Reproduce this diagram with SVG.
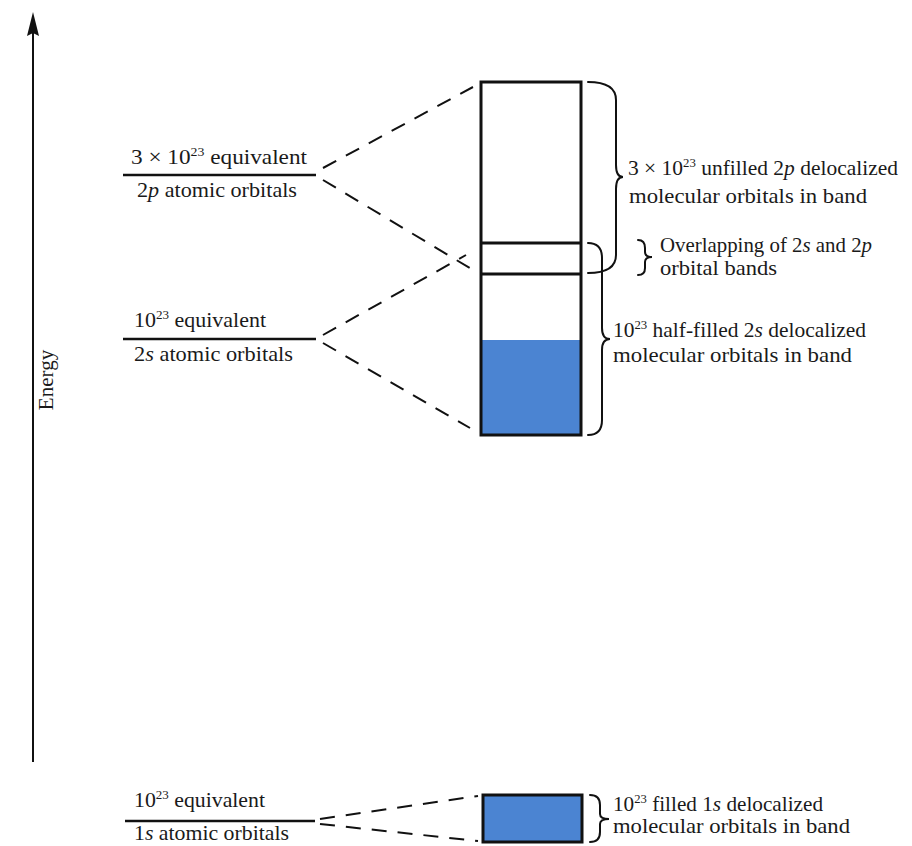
<svg xmlns="http://www.w3.org/2000/svg" width="912" height="846" viewBox="0 0 912 846">
  <style>
    text { font-family: "Liberation Serif", "Times New Roman", serif; font-size: 21px; fill: #1a1a1a; }
    .sup { font-size: 12.5px; }
    .it { font-style: italic; }
    .level { stroke: #111; stroke-width: 2.5; fill: none; }
    .dash { stroke: #111; stroke-width: 2; stroke-dasharray: 15 11; fill: none; }
    .band { stroke: #111; stroke-width: 3; fill: none; }
    .fill { fill: #4b84d2; stroke: none; }
    .brace { stroke: #111; stroke-width: 2; fill: none; stroke-linecap: round; }
  </style>
  <rect width="912" height="846" fill="#ffffff"/>

  <!-- energy axis -->
  <g id="axis">
    <line x1="33" y1="762" x2="33" y2="32" stroke="#111" stroke-width="2"/>
    <polygon points="33,12 39,36 33,33 27,36" fill="#111"/>
    <text x="0" y="0" font-size="16" text-anchor="middle" transform="translate(53,380) rotate(-90)">Energy</text>
  </g>

  <!-- atomic orbital levels -->
  <g id="level-2p">
    <text x="131" y="164" textLength="176" lengthAdjust="spacingAndGlyphs">3 × 10<tspan class="sup" dy="-8">23</tspan><tspan dy="8"> equivalent</tspan></text>
    <line class="level" x1="123" y1="175" x2="316" y2="175"/>
    <text x="137" y="197" textLength="160" lengthAdjust="spacingAndGlyphs">2<tspan class="it">p</tspan> atomic orbitals</text>
  </g>
  <g id="level-2s">
    <text x="134" y="327" textLength="132" lengthAdjust="spacingAndGlyphs">10<tspan class="sup" dy="-8">23</tspan><tspan dy="8"> equivalent</tspan></text>
    <line class="level" x1="123" y1="339" x2="316" y2="339"/>
    <text x="134" y="361" textLength="159" lengthAdjust="spacingAndGlyphs">2<tspan class="it">s</tspan> atomic orbitals</text>
  </g>
  <g id="level-1s">
    <text x="134" y="807" textLength="131" lengthAdjust="spacingAndGlyphs">10<tspan class="sup" dy="-8">23</tspan><tspan dy="8"> equivalent</tspan></text>
    <line class="level" x1="125" y1="821" x2="315" y2="821"/>
    <text x="134" y="840" textLength="155" lengthAdjust="spacingAndGlyphs">1<tspan class="it">s</tspan> atomic orbitals</text>
  </g>

  <!-- dashed correlation lines -->
  <g id="connectors">
    <line class="dash" x1="323" y1="168" x2="473" y2="87"/>
    <line class="dash" x1="323" y1="180" x2="473" y2="270"/>
    <line class="dash" x1="323" y1="335" x2="466" y2="255"/>
    <line class="dash" x1="323" y1="343" x2="470" y2="428"/>
    <line class="dash" x1="320" y1="819" x2="478" y2="796"/>
    <line class="dash" x1="320" y1="824" x2="478" y2="841"/>
  </g>

  <!-- 2s / 2p band -->
  <g id="band-2s2p">
    <rect class="fill" x="481" y="340" width="100" height="95"/>
    <rect class="band" x="481" y="82" width="100" height="353"/>
    <line class="band" x1="481" y1="243" x2="581" y2="243"/>
    <line class="band" x1="481" y1="274" x2="581" y2="274"/>
  </g>

  <!-- 1s band -->
  <g id="band-1s">
    <rect class="fill" x="483" y="795" width="99" height="47"/>
    <rect class="band" x="483" y="795" width="99" height="47"/>
  </g>

  <!-- braces and labels -->
  <g id="label-2p">
    <path class="brace" d="M588,82 Q616,82 616,100 L616,165 Q616,177 623,177 Q616,177 616,189 L616,255 Q616,273 588,273"/>
    <text x="628" y="175" textLength="270" lengthAdjust="spacingAndGlyphs">3 × 10<tspan class="sup" dy="-8">23</tspan><tspan dy="8"> unfilled 2</tspan><tspan class="it">p</tspan> delocalized</text>
    <text x="629" y="203" textLength="238" lengthAdjust="spacingAndGlyphs">molecular orbitals in band</text>
  </g>
  <g id="label-overlap">
    <path class="brace" d="M638,240 Q645,240 645,248 L645,252 Q645,257 652,257 Q645,257 645,262 L645,268 Q645,275 638,275"/>
    <text x="660" y="252" textLength="212" lengthAdjust="spacingAndGlyphs">Overlapping of 2<tspan class="it">s</tspan> and 2<tspan class="it">p</tspan></text>
    <text x="660" y="275" textLength="117" lengthAdjust="spacingAndGlyphs">orbital bands</text>
  </g>
  <g id="label-2s">
    <path class="brace" d="M588,243 Q602,243 602,258 L602,328 Q602,339 610,339 Q602,339 602,350 L602,420 Q602,435 588,435"/>
    <text x="613" y="337" textLength="253" lengthAdjust="spacingAndGlyphs">10<tspan class="sup" dy="-8">23</tspan><tspan dy="8"> half-filled 2</tspan><tspan class="it">s</tspan> delocalized</text>
    <text x="613" y="362" textLength="239" lengthAdjust="spacingAndGlyphs">molecular orbitals in band</text>
  </g>
  <g id="label-1s">
    <path class="brace" d="M590,795 Q600,795 600,805 L600,814 Q600,819 609,819 Q600,819 600,824 L600,832 Q600,842 590,842"/>
    <text x="613" y="811" textLength="210" lengthAdjust="spacingAndGlyphs">10<tspan class="sup" dy="-8">23</tspan><tspan dy="8"> filled 1</tspan><tspan class="it">s</tspan> delocalized</text>
    <text x="613" y="833" textLength="237" lengthAdjust="spacingAndGlyphs">molecular orbitals in band</text>
  </g>
</svg>
